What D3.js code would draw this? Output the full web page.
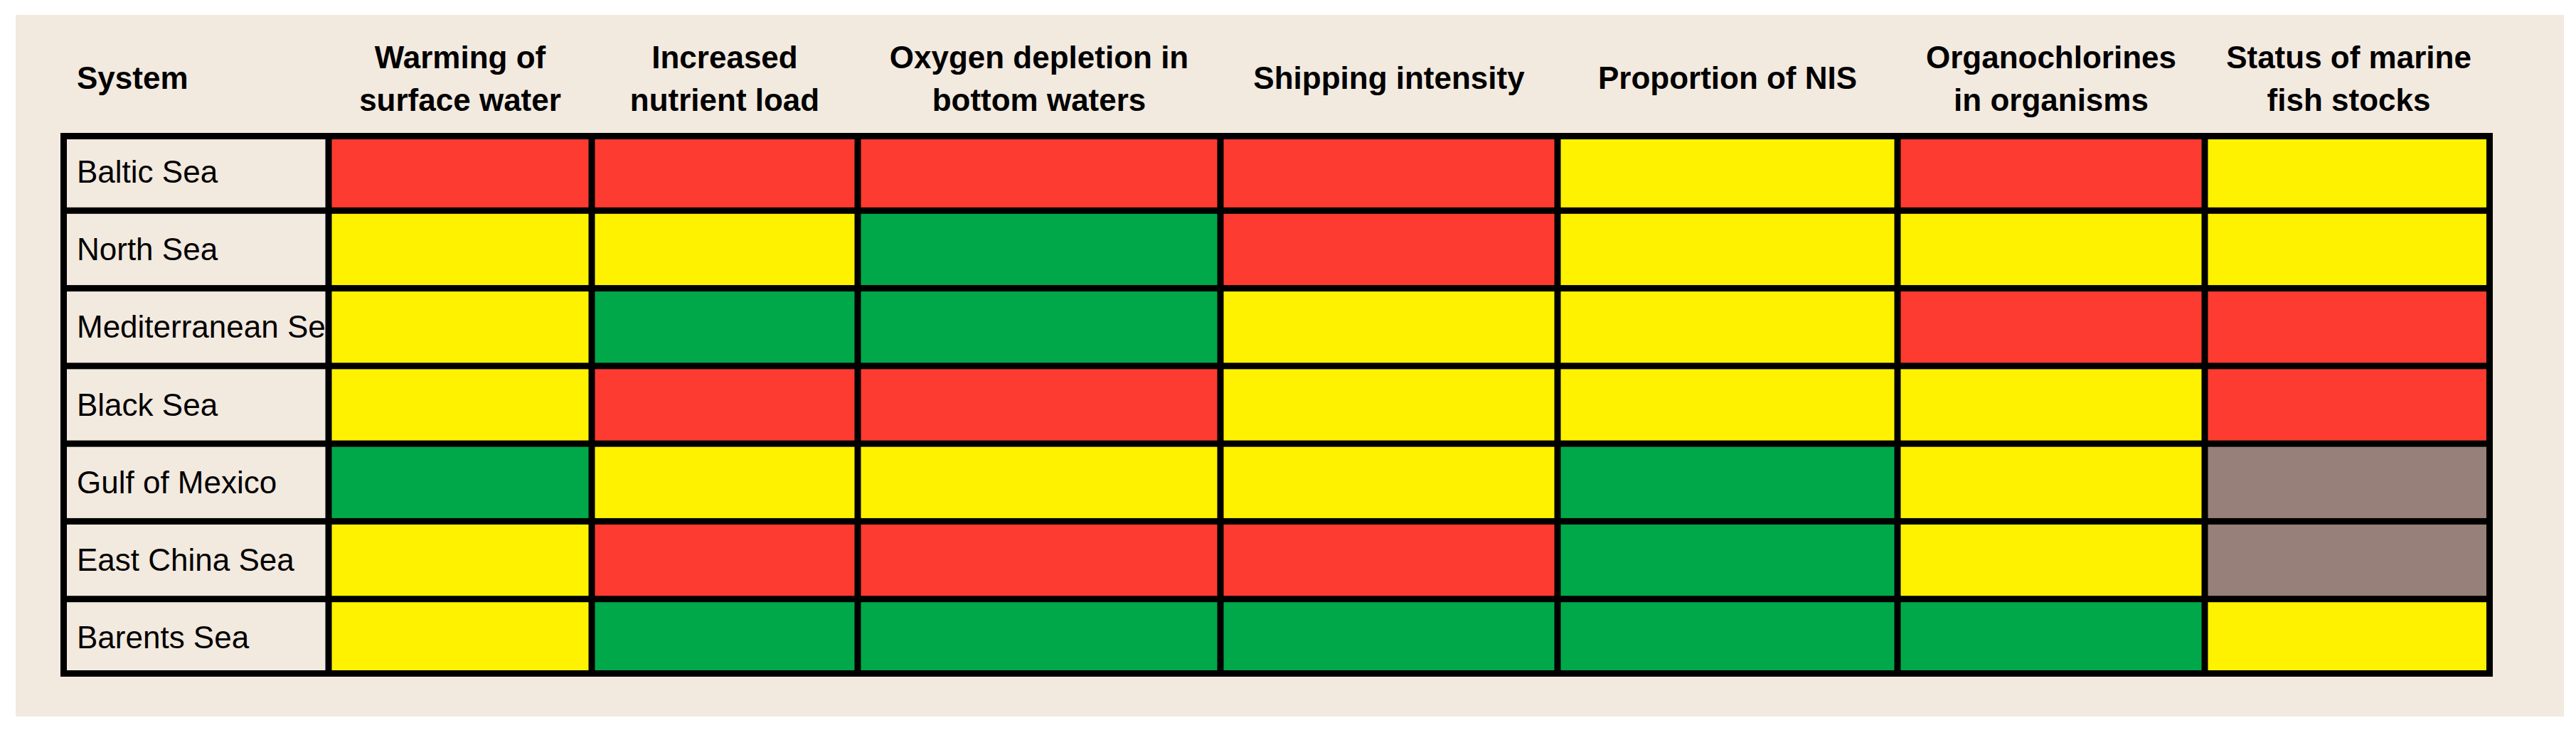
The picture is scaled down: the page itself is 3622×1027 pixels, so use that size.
<!DOCTYPE html>
<html><head><meta charset="utf-8">
<script src="https://cdn.jsdelivr.net/npm/d3@7"></script>
<style>body{margin:0;background:#fff}svg{display:block}</style>
</head><body><svg id="chart"></svg>
<script>
const systems = ['Baltic Sea', 'North Sea', 'Mediterranean Sea', 'Black Sea', 'Gulf of Mexico', 'East China Sea', 'Barents Sea'];
const indicators = [
  ['Warming of', 'surface water'],
  ['Increased', 'nutrient load'],
  ['Oxygen depletion in', 'bottom waters'],
  ['Shipping intensity'],
  ['Proportion of NIS'],
  ['Organochlorines', 'in organisms'],
  ['Status of marine', 'fish stocks']
];
// R = high, Y = moderate, G = low, N = no data
const status = [
  ['R', 'R', 'R', 'R', 'Y', 'R', 'Y'],
  ['Y', 'Y', 'G', 'R', 'Y', 'Y', 'Y'],
  ['Y', 'G', 'G', 'Y', 'Y', 'R', 'R'],
  ['Y', 'R', 'R', 'Y', 'Y', 'Y', 'R'],
  ['G', 'Y', 'Y', 'Y', 'G', 'Y', 'N'],
  ['Y', 'R', 'R', 'R', 'G', 'Y', 'N'],
  ['Y', 'G', 'G', 'G', 'G', 'G', 'Y']
];

(function () {
const width = 3622, height = 1027;
const font = "'Liberation Sans Narrow', 'Liberation Sans', sans-serif";
const svg = d3.select('#chart').attr('width', width).attr('height', height);

svg.append('rect').attr('x', 22).attr('y', 21).attr('width', 3583).attr('height', 987).attr('fill', '#f2e9df');

// column edges (layout)
const edges = [85, 462, 832, 1206, 1716, 2190, 2668, 3100, 3505];
const tableTop = 187, tableBottom = 952, gap = 9;

const y = d3.scaleBand().domain(systems).range([tableTop, tableBottom]);
const color = d3.scaleOrdinal().domain(['R', 'Y', 'G', 'N']).range(['#fe3b30', '#fff200', '#00a84a', '#968079']);

svg.append('rect').attr('x', edges[0]).attr('y', tableTop).attr('width', edges[8] - edges[0]).attr('height', tableBottom - tableTop).attr('fill', '#000');

const g = svg.append('g');
systems.forEach((s, i) => {
  const cy = y(s) + gap / 2 + (i === 0 ? gap / 2 : 0);
  const ch = y.bandwidth() - gap - (i === 0 || i === 6 ? gap / 2 : 0);
  g.append('rect')
    .attr('x', edges[0] + gap).attr('y', cy)
    .attr('width', edges[1] - edges[0] - gap * 1.5)
    .attr('height', ch)
    .attr('fill', '#f2e9df');
  g.append('text').attr('x', 108).attr('y', y(s) + y.bandwidth() / 2 + 15)
    .attr('font-family', font).attr('font-size', 44).attr('fill', '#000').text(s);
  status[i].forEach((v, j) => {
    const x0 = edges[j + 1] + gap / 2, x1 = edges[j + 2] - (j === 6 ? gap : gap / 2);
    g.append('rect')
      .attr('x', x0).attr('y', cy)
      .attr('width', x1 - x0)
      .attr('height', ch)
      .attr('fill', color(v));
  });
});

const head = svg.append('g').attr('font-family', font).attr('font-size', 44).attr('font-weight', 'bold').attr('fill', '#000');
head.append('text').attr('x', 108).attr('y', 125).text('System');
indicators.forEach((lines, j) => {
  const cx = (edges[j + 1] + edges[j + 2]) / 2;
  const t = head.append('text').attr('text-anchor', 'middle');
  if (lines.length === 1) {
    t.append('tspan').attr('x', cx).attr('y', 125).text(lines[0]);
  } else {
    lines.forEach((l, k) => t.append('tspan').attr('x', cx).attr('y', 96 + k * 60).text(l));
  }
});
})();
</script></body></html>
